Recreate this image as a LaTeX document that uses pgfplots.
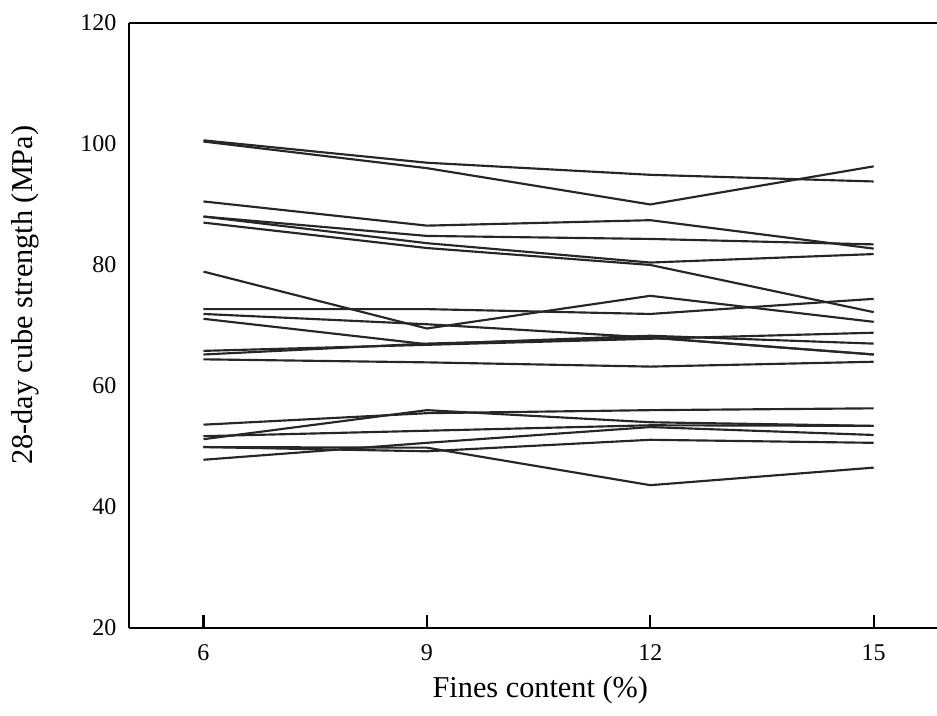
\documentclass[border=0pt]{standalone}
\usepackage{pgfplots}
\pgfplotsset{compat=1.18}
\usepackage{fontspec}
\setmainfont{Liberation Serif}
\pgfplotsset{ln/.style={color=black!85, solid, line width=0.85pt, mark=none}}
\begin{document}
\begin{tikzpicture}
\begin{axis}[
 name=ax, at={(0,0)}, anchor=south west,
 scale only axis, width=320pt, height=239.6pt,
 xmin=5, xmax=15.85, ymin=20, ymax=120,
 xtick={6,9,12,15}, ytick={20,40,...,120},
 axis x line*=bottom, axis y line*=left,
 axis line style={line width=1pt, -},
 tick align=inside, major tick length=5pt, tick style={line width=0.8pt, black},
 ytick style={draw=none},
 ticklabel style={font=\fontsize{9.5}{11}\selectfont},
 xticklabel style={yshift=-3pt},
 yticklabel style={xshift=-1.5pt},
 /pgf/number format/assume math mode=true,
 xlabel={Fines content (\%)}, ylabel={28-day cube strength (MPa)},
 label style={font=\fontsize{12}{14}\selectfont},
 xlabel style={at={(axis description cs:0.509,-0.103)}, anchor=center},
 ylabel style={at={(axis description cs:-0.129,0.55)}, anchor=center},
]
\draw[line width=1pt] (rel axis cs:0,1) -- (rel axis cs:1,1);
\addplot[ln] coordinates {(6,100.6)(9,96.9)(12,94.9)(15,93.8)};
\addplot[ln] coordinates {(6,100.4)(9,96.0)(12,90.0)(15,96.3)};
\addplot[ln] coordinates {(6,90.5)(9,86.5)(12,87.4)(15,82.7)};
\addplot[ln] coordinates {(6,88.0)(9,84.8)(12,84.3)(15,83.4)};
\addplot[ln] coordinates {(6,88.0)(9,83.6)(12,80.4)(15,81.8)};
\addplot[ln] coordinates {(6,87.0)(9,82.8)(12,80.0)(15,72.2)};
\addplot[ln] coordinates {(6,78.9)(9,69.5)(12,74.9)(15,70.6)};
\addplot[ln] coordinates {(6,72.7)(9,72.7)(12,71.9)(15,74.4)};
\addplot[ln] coordinates {(6,71.9)(9,70.2)(12,68.0)(15,65.2)};
\addplot[ln] coordinates {(6,71.1)(9,66.9)(12,68.3)(15,67.0)};
\addplot[ln] coordinates {(6,65.8)(9,66.8)(12,67.8)(15,68.8)};
\addplot[ln] coordinates {(6,65.2)(9,67.0)(12,68.0)(15,65.2)};
\addplot[ln] coordinates {(6,64.4)(9,63.9)(12,63.2)(15,64.0)};
\addplot[ln] coordinates {(6,53.6)(9,55.5)(12,56.0)(15,56.3)};
\addplot[ln] coordinates {(6,51.2)(9,56.0)(12,54.0)(15,53.4)};
\addplot[ln] coordinates {(6,51.7)(9,52.6)(12,53.5)(15,53.4)};
\addplot[ln] coordinates {(6,47.8)(9,50.6)(12,53.2)(15,51.9)};
\addplot[ln] coordinates {(6,49.9)(9,49.2)(12,51.1)(15,50.6)};
\addplot[ln] coordinates {(6,49.9)(9,49.8)(12,43.6)(15,46.5)};
\end{axis}
\pgfresetboundingbox
\path (-51.1pt,-34.5pt) rectangle (320pt,248.7pt);
\end{tikzpicture}
\end{document}
